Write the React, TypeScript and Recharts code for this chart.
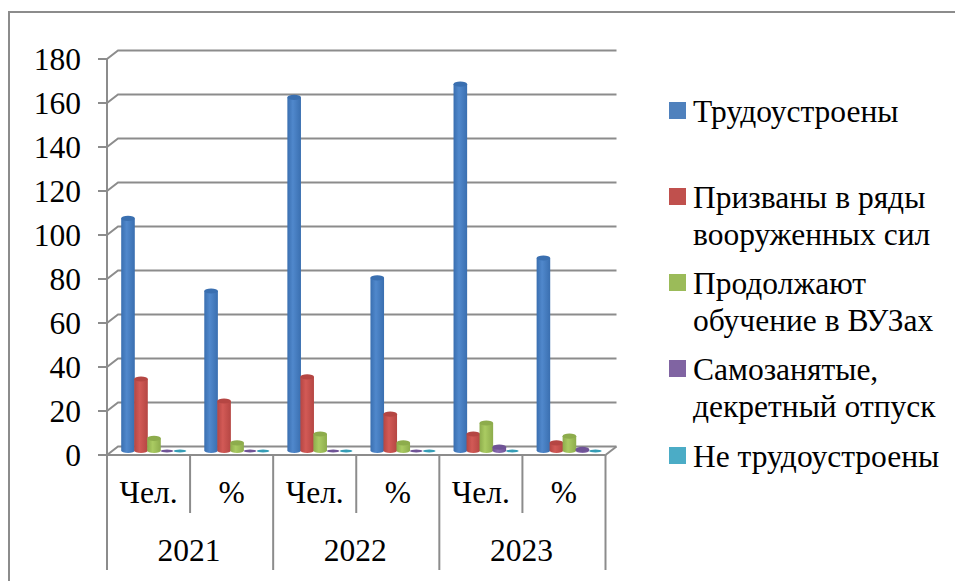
import React from 'react';
import { BarChart, Bar, XAxis, YAxis, CartesianGrid, Legend } from 'recharts';

const years = ['2021', '2021', '2022', '2022', '2023', '2023'];
const units = ['Чел.', '%', 'Чел.', '%', 'Чел.', '%'];
const employed = [106, 73, 161, 79, 167, 88];
const army = [33, 23, 34, 17, 8, 4];
const university = [6, 4, 8, 4, 13, 7];
const selfEmployed = [0, 0, 0, 0, 2, 1];
const unemployed = [0, 0, 0, 0, 0, 0];
const yTicks = [0, 20, 40, 60, 80, 100, 120, 140, 160, 180];

const seriesNames = ['Трудоустроены', 'Призваны в ряды вооруженных сил', 'Продолжают обучение в ВУЗах', 'Самозанятые, декретный отпуск', 'Не трудоустроены'];
const seriesValues = [employed, army, university, selfEmployed, unemployed];
const seriesKeys = ['employed', 'army', 'university', 'selfEmployed', 'unemployed'];
const seriesColors = ['#4f81bd', '#c0504d', '#9bbb59', '#8064a2', '#4bacc6'];
const edgeColors = ['#3a6fb0', '#b54643', '#8dac4c', '#6f5396', '#359db6'];
const lightColors = ['#5088cc', '#d25a56', '#aacb62', '#8c6db2', '#52b8d4'];

const data = units.map((unit, i) => {
  const row: Record<string, string | number> = { id: `${years[i]} ${unit}`, unit, year: years[i] };
  seriesKeys.forEach((k, s) => { row[k] = seriesValues[s][i]; });
  return row;
});

const FONT = '"Liberation Serif", serif';
const AXIS = '#8c8c8c';
const WIDTH = 955;
const HEIGHT = 581;
const LEFT = 107;
const RIGHT = 605.5;
const TOP = 59;
const FLOOR = 455;
const BAND = (RIGHT - LEFT) / units.length;
const DX = 11;
const DY = 8.5;
const LABEL_SIZE = 31.5;
const legendSquareTops = [102, 188, 274, 360, 447];

function Cylinder(props: any) {
  const { x, y, width, height, s } = props;
  const sx = x + 4.7;
  const w = width + 0.6;
  const rx = w / 2;
  const top = y - 6;
  const base = y + height - 2;
  if (height < 1) {
    return <ellipse cx={sx + rx} cy={base - 2} rx={rx - 0.5} ry={1.4} fill={edgeColors[s]} />;
  }
  const ry = 2.6;
  const d = `M${sx},${top + ry} L${sx},${base - ry} A${rx},${ry} 0 0 0 ${sx + w},${base - ry} L${sx + w},${top + ry} Z`;
  return (
    <g>
      <path d={d} fill={`url(#cyl${s})`} />
      <ellipse cx={sx + rx} cy={top + ry} rx={rx} ry={ry} fill={edgeColors[s]} />
    </g>
  );
}

function GridLine(props: any) {
  const { x1, x2, y1 } = props;
  const isFloor = Math.abs(y1 - FLOOR) < 1;
  return (
    <g fill="none" stroke={AXIS} strokeWidth={2}>
      <path d={`M${x1},${y1} L${x1 + DX},${y1 - DY} L${x2 + DX},${y1 - DY}`} />
      {isFloor && <path d={`M${x2},${y1} L${x2 + DX},${y1 - DY}`} />}
    </g>
  );
}

function CategoryTick(props: any) {
  const { x, y, index } = props;
  const leftEdge = x - BAND / 2;
  const rightEdge = x + BAND / 2;
  const startsYear = index % 2 === 0;
  return (
    <g>
      <line x1={leftEdge} x2={leftEdge} y1={FLOOR} y2={startsYear ? 570 : 513} stroke={AXIS} strokeWidth={2} />
      {index === units.length - 1 && <line x1={rightEdge} x2={rightEdge} y1={FLOOR} y2={570} stroke={AXIS} strokeWidth={2} />}
      <text x={x} y={y + 40} textAnchor="middle" fontFamily={FONT} fontSize={LABEL_SIZE} fill="#000">{units[index]}</text>
      {!startsYear && <text x={leftEdge - 1} y={y + 98} textAnchor="middle" fontFamily={FONT} fontSize={LABEL_SIZE} fill="#000">{years[index]}</text>}
    </g>
  );
}

function ChartLegend({ payload }: any) {
  return (
    <div style={{ position: 'relative', width: WIDTH, height: 0, fontFamily: FONT, fontSize: LABEL_SIZE, lineHeight: '37px', color: '#000' }}>
      {(payload || []).map((entry: any, i: number) => (
        <div key={entry.value}>
          <div style={{ position: 'absolute', left: 669, top: legendSquareTops[i], width: 17, height: 17, background: entry.color }} />
          <div style={{ position: 'absolute', left: 693, top: legendSquareTops[i] - 9, width: 262, textAlign: 'left' }}>{entry.value}</div>
        </div>
      ))}
    </div>
  );
}

export default function App() {
  return (
    <div style={{ position: 'absolute', left: 0, top: 0, width: WIDTH, height: HEIGHT, overflow: 'hidden', background: '#fff' }}>
      <div style={{ position: 'absolute', left: 8, top: 11, right: 0, bottom: 0, borderLeft: `2px solid ${AXIS}`, borderTop: `2px solid ${AXIS}` }} />
      <div style={{ position: 'absolute', left: 0, top: 0 }}>
        <BarChart
          width={WIDTH}
          height={HEIGHT}
          data={data}
          margin={{ top: TOP, left: LEFT - 70, right: WIDTH - RIGHT, bottom: 0 }}
          barCategoryGap={9.5}
          barGap={0}
        >
          <defs>
            {seriesColors.map((_, s) => (
              <linearGradient key={s} id={`cyl${s}`} x1="0" x2="1" y1="0" y2="0">
                <stop offset="0" stopColor={edgeColors[s]} />
                <stop offset="0.4" stopColor={lightColors[s]} />
                <stop offset="1" stopColor={edgeColors[s]} />
              </linearGradient>
            ))}
          </defs>
          <CartesianGrid vertical={false} horizontal={(p: any) => <GridLine key={p.key ?? p.y1} {...p} />} />
          <XAxis
            dataKey="id"
            height={HEIGHT - FLOOR}
            interval={0}
            tickLine={false}
            axisLine={{ stroke: AXIS, strokeWidth: 2 }}
            tick={(p: any) => <CategoryTick {...p} />}
          />
          <YAxis
            width={70}
            domain={[0, 180]}
            ticks={yTicks}
            interval={0}
            tickSize={9}
            tickMargin={17}
            axisLine={{ stroke: AXIS, strokeWidth: 2 }}
            tickLine={{ stroke: AXIS, strokeWidth: 2 }}
            tick={{ fill: '#000', fontSize: LABEL_SIZE, fontFamily: FONT }}
          />
          <Legend
            layout="vertical"
            align="center"
            verticalAlign="middle"
            itemSorter={null}
            wrapperStyle={{ left: 0, top: 0, width: WIDTH, height: 0 }}
            content={<ChartLegend />}
          />
          {seriesKeys.map((k, s) => (
            <Bar
              key={k}
              dataKey={k}
              name={seriesNames[s]}
              fill={seriesColors[s]}
              isAnimationActive={false}
              shape={(p: any) => <Cylinder {...p} s={s} />}
            />
          ))}
        </BarChart>
      </div>
    </div>
  );
}
